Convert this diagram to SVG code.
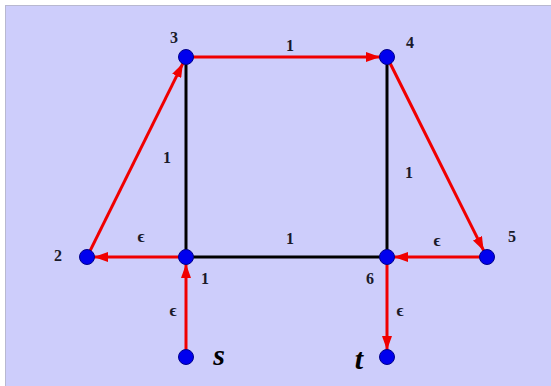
<svg xmlns="http://www.w3.org/2000/svg" width="551" height="386" viewBox="0 0 551 386">
<style>
.bg{fill:#cdcdfb;stroke:#b8b8d0;stroke-width:1}
.blk{stroke:#000;stroke-width:3;fill:none}
.red{stroke:#f00000;stroke-width:3;fill:none}
.nd{fill:#0000ee;stroke:#00008a;stroke-width:1}
.lb{font-family:"Liberation Serif",serif;font-weight:bold;font-size:16px;fill:#1a1a2a;text-anchor:middle}
.ep{font-family:"Liberation Serif",serif;font-weight:bold;font-size:17px;fill:#1a1a2a;text-anchor:middle}
.st{font-family:"Liberation Serif",serif;font-weight:bold;font-style:italic;font-size:30px;fill:#000;text-anchor:middle}
</style>
<defs>
<marker id="ar" viewBox="0 0 14 10" refX="14" refY="5" markerWidth="14" markerHeight="10" markerUnits="userSpaceOnUse" orient="auto">
<path d="M0,0 L14,5 L0,10 Z" fill="#f00000"/>
</marker>
</defs>
<rect class="bg" x="5.5" y="5.5" width="550" height="385"/>
<g id="connectors">
<line class="blk" x1="186" y1="57" x2="186" y2="257"/>
<line class="blk" x1="387" y1="57" x2="387" y2="257"/>
<line class="blk" x1="186" y1="257" x2="387" y2="257"/>
<line class="red" x1="87" y1="257" x2="182.9" y2="63.3" marker-end="url(#ar)"/>
<line class="red" x1="186" y1="57" x2="380" y2="57" marker-end="url(#ar)"/>
<line class="red" x1="387" y1="57" x2="483.7" y2="250.7" marker-end="url(#ar)"/>
<line class="red" x1="487" y1="257" x2="394" y2="257" marker-end="url(#ar)"/>
<line class="red" x1="186" y1="257" x2="94" y2="257" marker-end="url(#ar)"/>
<line class="red" x1="186" y1="357" x2="186" y2="264" marker-end="url(#ar)"/>
<line class="red" x1="387" y1="257" x2="387" y2="350" marker-end="url(#ar)"/>
</g>
<g id="labels">
<text class="lb" x="290" y="51">1</text>
<text class="lb" x="167" y="163">1</text>
<text class="lb" x="409" y="178">1</text>
<text class="lb" x="290" y="244">1</text>
<text class="ep" x="141" y="242">ϵ</text>
<text class="ep" x="437" y="246">ϵ</text>
<text class="ep" x="173" y="316">ϵ</text>
<text class="ep" x="400" y="316">ϵ</text>
</g>
<g id="node-3"><circle class="nd" cx="186" cy="57" r="7.5"/><text class="lb" x="174" y="43">3</text></g>
<g id="node-4"><circle class="nd" cx="387" cy="57" r="7.5"/><text class="lb" x="410" y="48">4</text></g>
<g id="node-2"><circle class="nd" cx="87" cy="257" r="7.5"/><text class="lb" x="58" y="261">2</text></g>
<g id="node-1"><circle class="nd" cx="186" cy="257" r="7.5"/><text class="lb" x="205" y="284">1</text></g>
<g id="node-6"><circle class="nd" cx="387" cy="257" r="7.5"/><text class="lb" x="370" y="284">6</text></g>
<g id="node-5"><circle class="nd" cx="487" cy="257" r="7.5"/><text class="lb" x="512" y="242">5</text></g>
<g id="node-s"><circle class="nd" cx="186" cy="357" r="7.5"/><text class="st" x="219" y="365">s</text></g>
<g id="node-t"><circle class="nd" cx="387" cy="357" r="7.5"/><text class="st" x="359" y="369">t</text></g>
</svg>
